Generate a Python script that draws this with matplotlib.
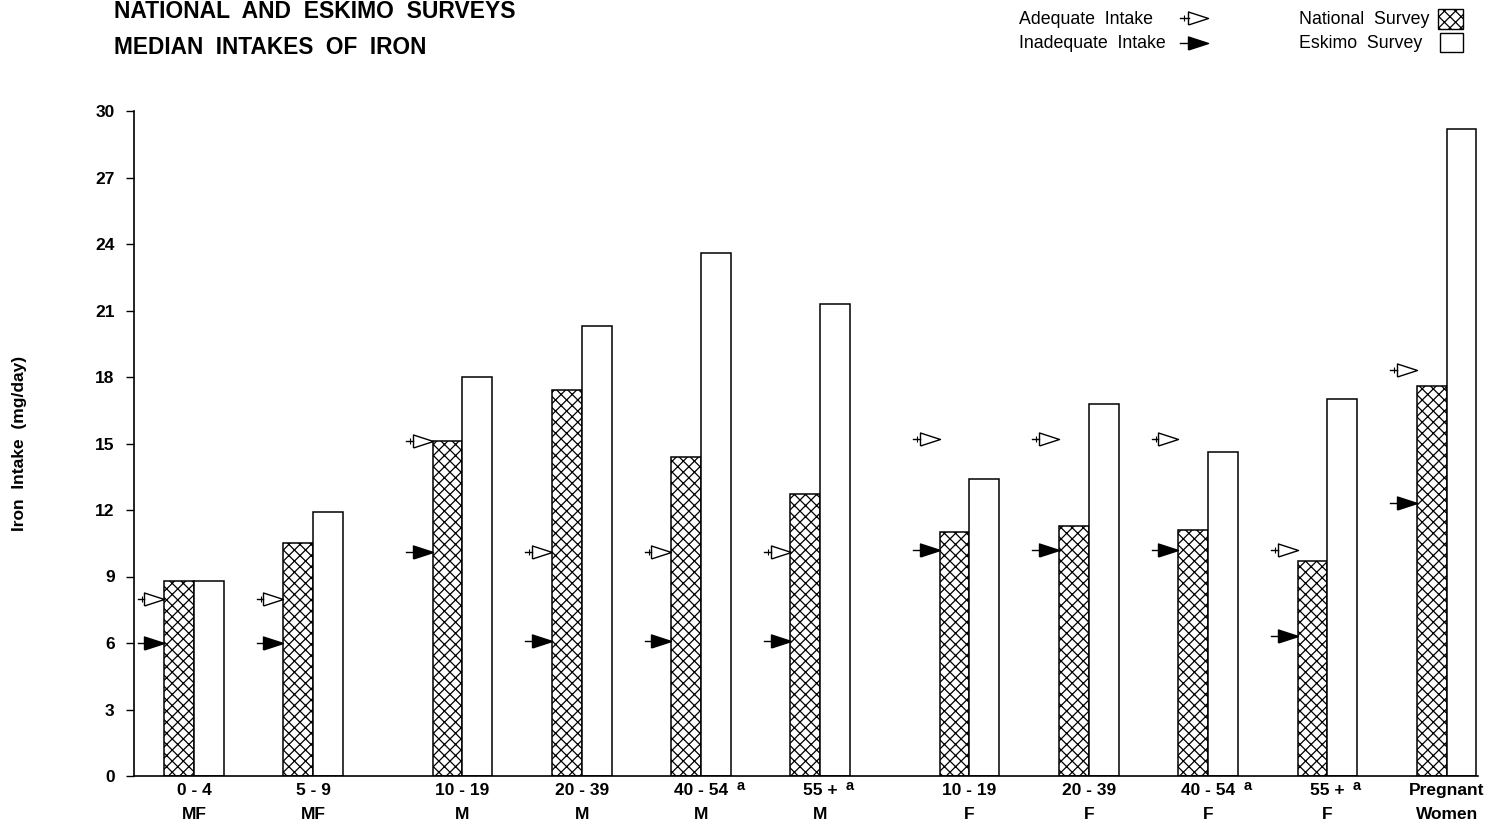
import matplotlib.pyplot as plt
from matplotlib.lines import Line2D
from matplotlib.patches import Rectangle

# --- data ---
age_groups = ["0 - 4", "5 - 9", "10 - 19", "20 - 39", "40 - 54", "55 +", "10 - 19", "20 - 39", "40 - 54", "55 +", "Pregnant"]
sex_groups = ["MF", "MF", "M", "M", "M", "M", "F", "F", "F", "F", "Women"]
footnote = [False, False, False, False, True, True, False, False, True, True, False]

national = [8.8, 10.5, 15.1, 17.4, 14.4, 12.7, 11.0, 11.3, 11.1, 9.7, 17.6]
eskimo = [8.8, 11.9, 18.0, 20.3, 23.6, 21.3, 13.4, 16.8, 14.6, 17.0, 29.2]
adequate = [8.0, 8.0, 15.1, 10.1, 10.1, 10.1, 15.2, 15.2, 15.2, 10.2, 18.3]
inadequate = [6.0, 6.0, 10.1, 6.1, 6.1, 6.1, 10.2, 10.2, 10.2, 6.3, 12.3]

yticks = [0, 3, 6, 9, 12, 15, 18, 21, 24, 27, 30]

plt.rcParams['font.family'] = ['Liberation Sans', 'DejaVu Sans']
plt.rcParams['hatch.linewidth'] = 0.9

# group centres: wider gap after the MF groups and after the male groups
centres = []
pos = 0.0
for i in range(len(age_groups)):
    if i in (2, 6):
        pos += 0.25
    centres.append(pos)
    pos += 1.0

w = 0.25             # bar width
tri_w = 20 / 119.3   # triangle width in data units
tail = 0.055
HATCH = 'xxx'

fig = plt.figure(figsize=(14.88, 8.26), dpi=100)
ax = fig.add_axes([134 / 1488, 1 - 776 / 826, (1478 - 134) / 1488, (776 - 111) / 826])

nat_x = [c - w / 2 for c in centres]
esk_x = [c + w / 2 for c in centres]
ax.bar(nat_x, national, width=w, color='white', edgecolor='black', hatch=HATCH, linewidth=1.1, zorder=2)
ax.bar(esk_x, eskimo, width=w, color='white', edgecolor='black', linewidth=1.1, zorder=2)

tri = [(-1, -0.65), (1, 0), (-1, 0.65), (-1, -0.65)]
mark_x = [c - w - tri_w / 2 for c in centres]
ax.plot(mark_x, adequate, ls='none', marker=tri, ms=14.4, mfc='white', mec='black', mew=1.0, zorder=3)
ax.plot(mark_x, inadequate, ls='none', marker=tri, ms=14.4, mfc='black', mec='black', mew=1.0, zorder=3)
for x, a, b in zip(mark_x, adequate, inadequate):
    x0 = x - tri_w / 2
    ax.plot([x0 - tail, x0], [a, a], color='black', lw=1.0, zorder=3)
    ax.plot([x0 - tail, x0], [b, b], color='black', lw=1.0, zorder=3)
    ax.plot([x0 - tail * 0.4], [a], ls='none', marker='|', ms=5, mew=0.8, color='black', zorder=3)

ax.set_xlim(-60 / 119.3, 1284 / 119.3)
ax.set_ylim(0, 30)
ax.set_yticks(yticks)
ax.set_yticklabels([str(t) for t in yticks], fontsize=12.5, fontweight='bold')
ax.tick_params(axis='y', length=6, width=1.0, pad=8)
ax.set_xticks([])
for s in ('top', 'right'):
    ax.spines[s].set_visible(False)
ax.spines['left'].set_linewidth(1.2)
ax.spines['bottom'].set_linewidth(1.2)

for c, age, sex, fn in zip(centres, age_groups, sex_groups, footnote):
    t = ax.annotate(age, xy=(c, 0), xytext=(0, -5), textcoords='offset points',
                    ha='center', va='top', fontsize=12.5, fontweight='bold', annotation_clip=False)
    ax.annotate(sex, xy=(c, 0), xytext=(0, -22), textcoords='offset points',
                ha='center', va='top', fontsize=12.5, fontweight='bold', annotation_clip=False)
    if fn:
        ax.annotate('a', xy=(1, 1), xycoords=t, xytext=(6, 3), textcoords='offset points',
                    ha='left', va='top', fontsize=10.5, fontweight='bold')

fig.text(20 / 1488, 1 - 443 / 826, "Iron  Intake  (mg/day)", rotation=90, ha='center', va='center',
         fontsize=12.5, fontweight='bold')

fig.text(114 / 1488, 1 - 12 / 826, "NATIONAL  AND  ESKIMO  SURVEYS", ha='left', va='center',
         fontsize=16.5, fontweight='bold')
fig.text(114 / 1488, 1 - 48 / 826, "MEDIAN  INTAKES  OF  IRON", ha='left', va='center',
         fontsize=16.3, fontweight='bold')

# --- hand-built legend ---
fig.text(1019 / 1488, 1 - 20 / 826, "Adequate  Intake", ha='left', va='center', fontsize=12.8)
fig.text(1019 / 1488, 1 - 44 / 826, "Inadequate  Intake", ha='left', va='center', fontsize=12.8)
for ypx, fc in ((18, 'white'), (43, 'black')):
    yf = 1 - ypx / 826
    fig.add_artist(Line2D([1198 / 1488], [yf], marker=tri, ms=14.4, mfc=fc, mec='black', mew=1.0,
                          transform=fig.transFigure))
    fig.add_artist(Line2D([1180 / 1488, 1189 / 1488], [yf, yf], color='black', lw=1.0,
                          transform=fig.transFigure))
fig.add_artist(Line2D([1184 / 1488], [1 - 18 / 826], ls='none', marker='|', ms=5, mew=0.8, color='black',
                      transform=fig.transFigure))

fig.text(1299 / 1488, 1 - 19 / 826, "National  Survey", ha='left', va='center', fontsize=12.8)
fig.text(1299 / 1488, 1 - 43 / 826, "Eskimo  Survey", ha='left', va='center', fontsize=12.8)
fig.add_artist(Rectangle((1438 / 1488, 1 - 29 / 826), 25 / 1488, 20 / 826, transform=fig.transFigure,
                         facecolor='white', edgecolor='black', hatch=HATCH, lw=1.0))
fig.add_artist(Rectangle((1440 / 1488, 1 - 52 / 826), 23 / 1488, 19 / 826, transform=fig.transFigure,
                         facecolor='white', edgecolor='black', lw=1.0))

fig.savefig("out.png", dpi=100)
